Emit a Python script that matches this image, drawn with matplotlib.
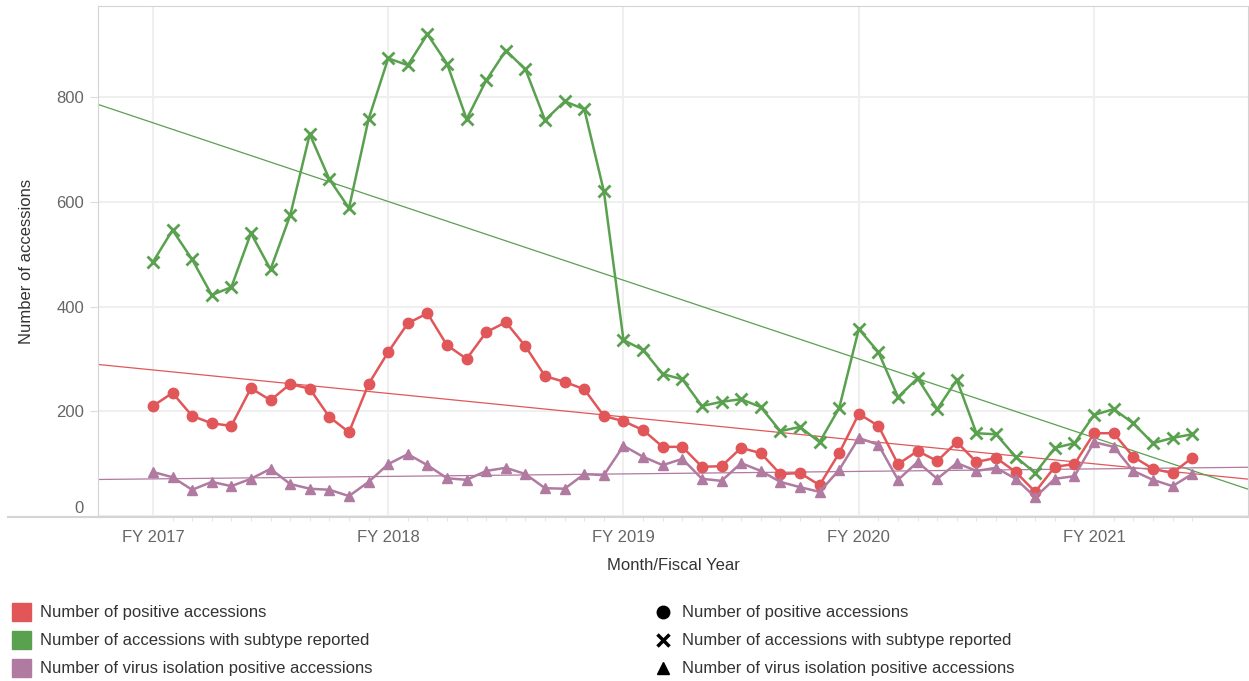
import numpy as np
import matplotlib
matplotlib.use('Agg')
import matplotlib.pyplot as plt
from matplotlib.lines import Line2D
from matplotlib.patches import Rectangle

plt.rcParams['font.family'] = ['Liberation Sans', 'DejaVu Sans']

# monthly values, FY 2017 (month 0) onwards
positive = [210, 235, 191, 177, 172, 244, 221, 252, 243, 189, 160, 252,
            313, 368, 387, 326, 300, 351, 370, 324, 267, 256, 242, 191,
            181, 164, 132, 132, 94, 95, 130, 120, 80, 82, 59, 120,
            195, 172, 99, 124, 105, 141, 103, 111, 84, 46, 94, 99,
            158, 158, 113, 90, 82, 111]
subtype = [485, 546, 490, 422, 437, 540, 471, 574, 729, 643, 588, 758,
           874, 861, 920, 864, 758, 832, 889, 853, 756, 792, 777, 620,
           336, 317, 271, 261, 210, 218, 223, 208, 162, 170, 141, 206,
           357, 313, 227, 263, 204, 260, 158, 156, 113, 82, 130, 139,
           193, 204, 177, 139, 149, 156]
isolation = [84, 74, 50, 65, 57, 71, 90, 61, 52, 50, 38, 65,
             99, 118, 97, 72, 69, 86, 92, 80, 53, 52, 80, 78,
             134, 113, 97, 109, 71, 67, 101, 86, 65, 55, 46, 88,
             149, 136, 69, 103, 71, 101, 86, 92, 71, 36, 71, 76,
             141, 132, 86, 69, 57, 80]
fy_ticks = [0, 12, 24, 36, 48]
fy_labels = ['FY 2017', 'FY 2018', 'FY 2019', 'FY 2020', 'FY 2021']
names = ['Number of positive accessions',
         'Number of accessions with subtype reported',
         'Number of virus isolation positive accessions']

colors = ['#e15759', '#59a14f', '#b07aa1']
W, H = 1249, 681

fig = plt.figure(figsize=(W / 100, H / 100), dpi=100)
ax = fig.add_axes([98 / W, 1 - 517 / H, (1248 - 98) / W, (517 - 6) / H])

x = np.arange(len(positive))
ax.set_xlim(-2.8, 55.85)
ax.set_ylim(-2, 974)

# trend lines across the whole axis
xs = np.array(ax.get_xlim())
for vals, c in zip([positive, subtype, isolation], colors):
    k, b = np.polyfit(x, vals, 1)
    ax.plot(xs, k * xs + b, color=c, lw=0.9, zorder=2)

ax.plot(x, positive, color=colors[0], lw=1.8, marker='o', ms=7.5, zorder=3)
ax.plot(x, subtype, color=colors[1], lw=1.8, marker='x', ms=8.5, mew=2, zorder=3)
ax.plot(x, isolation, color=colors[2], lw=1.8, marker='^', ms=7, zorder=3)

ax.set_xticks(fy_ticks)
ax.set_xticklabels(fy_labels)
ax.set_xticks(x, minor=True)
ax.set_yticks([0, 200, 400, 600, 800])
ax.grid(True, color='#efefef', lw=1.5, zorder=0)
ax.set_axisbelow(True)
ax.tick_params(axis='both', labelsize=12, labelcolor='#666666', colors='#dddddd')
ax.tick_params(axis='x', which='major', length=0, pad=9)
ax.tick_params(axis='x', which='minor', length=3, color='#e0e0e0')
ax.tick_params(axis='y', length=6, pad=4)
# the "0" label sits just above the bottom line
ax.get_yticklabels()[0].set_verticalalignment('bottom')
for side in ['left', 'top', 'right']:
    ax.spines[side].set_color('#d4d4d4')
ax.spines['bottom'].set_visible(False)
# bottom axis line runs out to the left edge
fig.add_artist(Line2D([8 / W, 1], [1 - 517 / H, 1 - 517 / H], color='#d4d4d4', lw=1.5))

fig.text(27 / W, 1 - 261 / H, 'Number of accessions', rotation=90,
         ha='center', va='center', fontsize=12, color='#333333')
fig.text(673 / W, 1 - 565 / H, 'Month/Fiscal Year', ha='center', va='center',
         fontsize=12, color='#333333')

# legends: colour and shape
rows = [612, 640, 668]
shapes = [('o', 9, 1), ('x', 8, 2.5), ('^', 8, 1)]
for i, name in enumerate(names):
    yy = 1 - rows[i] / H
    fig.add_artist(Rectangle((12 / W, yy - 9 / H), 19 / W, 18 / H,
                             transform=fig.transFigure, color=colors[i]))
    fig.text(40 / W, yy, name, ha='left', va='center', fontsize=12, color='#333333')
    m, ms, mew = shapes[i]
    fig.add_artist(Line2D([663 / W], [yy], marker=m, ms=ms, mew=mew,
                          color='black', ls='none'))
    fig.text(682 / W, yy, name, ha='left', va='center', fontsize=12, color='#333333')

fig.savefig('out.png', dpi=100)
